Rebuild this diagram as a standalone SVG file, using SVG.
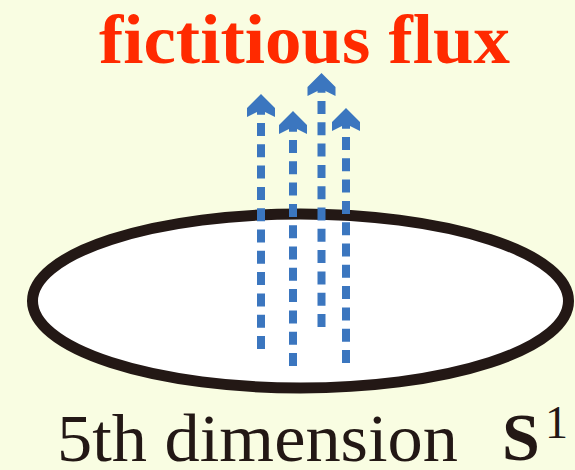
<svg xmlns="http://www.w3.org/2000/svg" width="575" height="470" viewBox="0 0 575 470">
<style>
.flux{stroke:#3b76bf;stroke-width:8;stroke-dasharray:13 8.3;fill:none}
.head{fill:#3b76bf}
.lbl{font-family:"Liberation Serif","DejaVu Serif",serif;fill:#231815}
</style>
<defs>
<path id="ah" d="M0,0 L14,14 L14,23 L0,16 L-14,23 L-14,14 Z"/>
</defs>
<rect x="0" y="0" width="575" height="470" fill="#f9fde2"/>
<g id="circle-s1">
<ellipse cx="300.5" cy="301" rx="268" ry="87" fill="#ffffff" stroke="#231815" stroke-width="11"/>
</g>
<g id="connectors">
<line class="flux" x1="261" y1="349" x2="261" y2="108"/>
<use href="#ah" class="head" x="261" y="94"/>
<line class="flux" x1="293" y1="366" x2="293" y2="125"/>
<use href="#ah" class="head" x="293" y="111"/>
<line class="flux" x1="321.5" y1="327" x2="321.5" y2="87"/>
<use href="#ah" class="head" x="321.5" y="73"/>
<line class="flux" x1="346" y1="363" x2="346" y2="122"/>
<use href="#ah" class="head" x="346" y="108"/>
</g>
<g id="title">
<text x="99" y="63" font-family="'Liberation Serif','DejaVu Serif',serif" font-weight="bold" font-size="70" fill="#ff2a00" textLength="411" lengthAdjust="spacingAndGlyphs">fictitious flux</text>
</g>
<g id="label">
<text class="lbl" x="57" y="461" font-size="67" textLength="401" lengthAdjust="spacingAndGlyphs">5th dimension</text>
<text class="lbl" x="502" y="460" font-size="68" font-weight="bold">S</text>
<text class="lbl" x="545" y="438" font-size="46">1</text>
</g>
</svg>
